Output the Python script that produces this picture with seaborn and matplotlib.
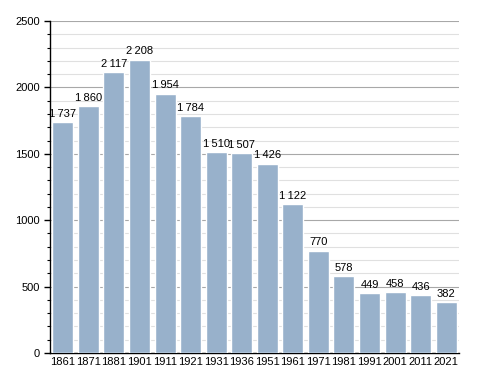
import matplotlib
matplotlib.use("Agg")
import matplotlib.pyplot as plt
import seaborn as sns
import pandas as pd
from matplotlib.ticker import MultipleLocator

years = ["1861", "1871", "1881", "1901", "1911", "1921", "1931", "1936",
         "1951", "1961", "1971", "1981", "1991", "2001", "2011", "2021"]
population = [1737, 1860, 2117, 2208, 1954, 1784, 1510, 1507,
              1426, 1122, 770, 578, 449, 458, 436, 382]

df = pd.DataFrame({"year": years, "pop": population})

sns.set_style("white")
plt.rcParams['font.family'] = ['Liberation Sans', 'DejaVu Sans']
plt.rcParams['text.color'] = 'black'
plt.rcParams['xtick.color'] = 'black'
plt.rcParams['ytick.color'] = 'black'

fig = plt.figure(figsize=(4.88, 3.73), dpi=100)
ax = fig.add_axes([0.1025, 0.0536, 0.838, 0.89])

sns.barplot(data=df, x="year", y="pop", color="#98b1cb", saturation=1,
            width=0.82, ax=ax, zorder=3)

# value labels, thin space as thousands separator
for i, v in enumerate(population):
    s = f"{v:,}".replace(",", "\u2009")
    ax.text(i, v + 25, s, ha="center", va="bottom", fontsize=8,
            color="black", zorder=4)

ax.set_ylim(0, 2500)
ax.set_xlim(-0.5, len(years) - 0.5)
ax.yaxis.set_major_locator(MultipleLocator(500))
ax.yaxis.set_minor_locator(MultipleLocator(100))
ax.grid(axis="y", which="major", color="#a8a8a8", linewidth=0.8, zorder=0)
ax.grid(axis="y", which="minor", color="#e0e0e0", linewidth=0.8, zorder=0)
ax.set_axisbelow(True)

for side in ["top", "right"]:
    ax.spines[side].set_visible(False)
ax.spines["left"].set_color("black")
ax.spines["bottom"].set_color("black")
ax.spines["left"].set_linewidth(1)
ax.spines["bottom"].set_linewidth(1)

ax.tick_params(axis="y", which="major", length=4, width=1, color="black",
               labelsize=8, labelcolor="black", left=True)
ax.tick_params(axis="y", which="minor", length=2, width=0.8, color="black",
               left=True)
ax.tick_params(axis="x", length=0, labelsize=8, labelcolor="black", pad=3)
ax.set_xlabel("")
ax.set_ylabel("")

fig.savefig("out.png", dpi=100)
